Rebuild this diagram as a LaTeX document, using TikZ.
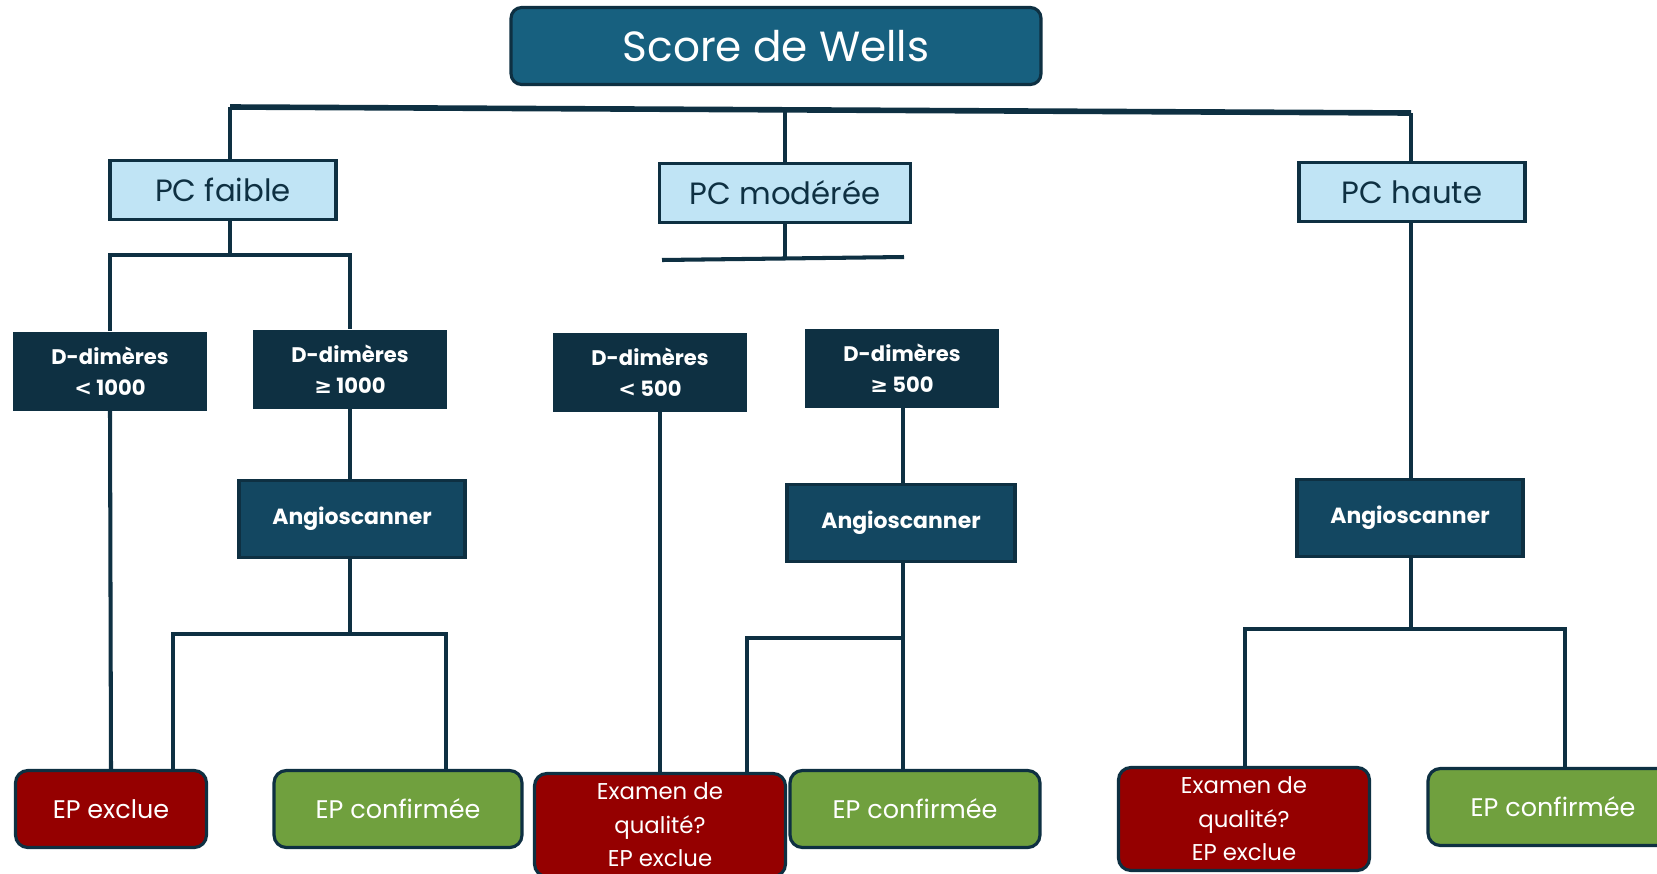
\documentclass[tikz,border=0pt]{standalone}
\usepackage{fontspec}
\setmainfont{Poppins}
\newfontfamily\symbfont{DejaVu Sans}
\newcommand*{\ddgeq}{{\symbfont ≥}}
\newcommand*{\ddless}{{\symbfont <}}
\definecolor{navy}{HTML}{0E3042}
\definecolor{wellsblue}{HTML}{17607F}
\definecolor{pcblue}{HTML}{C0E4F5}
\definecolor{angioblue}{HTML}{134761}
\definecolor{epred}{HTML}{950000}
\definecolor{epgreen}{HTML}{70A03E}
\tikzset{
  link/.style={draw=navy, line width=2.3pt},
  titlebox/.style={draw=navy, line width=1.8pt, fill=wellsblue, rounded corners=6pt,
    text=white, font=\fontsize{24}{28}\selectfont, minimum width=10.6cm, minimum height=1.54cm},
  pcbox/.style={draw=navy, line width=1.8pt, fill=pcblue, text=navy,
    font=\fontsize{17.5}{20}\selectfont, minimum width=4.52cm, minimum height=1.18cm},
  ddbox/.style={fill=navy, text=white, align=center, font=\bfseries\fontsize{12}{17.5}\selectfont,
    minimum width=3.88cm, minimum height=1.58cm},
  angiobox/.style={draw=navy, line width=1.8pt, fill=angioblue, text=white,
    font=\bfseries\fontsize{12.5}{15}\selectfont, minimum width=4.52cm, minimum height=1.54cm},
  endbox/.style={draw=navy, line width=1.8pt, rounded corners=7pt, text=white, align=center,
    font=\fontsize{14.5}{19}\selectfont, minimum width=4.96cm, minimum height=1.54cm},
  exclue/.style={endbox, fill=epred},
  confirm/.style={endbox, fill=epgreen},
  examen/.style={exclue, font=\fontsize{13}{19}\selectfont, minimum width=5.02cm, minimum height=2.06cm}
}
\begin{document}
\begin{tikzpicture}[x=0.02cm, y=-0.02cm]
  \useasboundingbox (0,0) rectangle (1657,873);
  \clip (0,0) rectangle (1657,873);
  % titre et probabilites cliniques
  \node[titlebox] (wells) at (776,46) {Score de Wells};
  \node[pcbox] (pcf) at (223,190) {PC faible};
  \node[pcbox, minimum width=5.02cm] (pcm) at (785,193) {PC modérée};
  \node[pcbox] (pch) at (1412,192) {PC haute};
  % D-dimeres
  \node[ddbox] (dd1) at (110,371) {D-dimères\\\ddless\ 1000};
  \node[ddbox] (dd2) at (350,369) {D-dimères\\\ddgeq\ 1000};
  \node[ddbox] (dd3) at (650,372) {D-dimères\\\ddless\ 500};
  \node[ddbox] (dd4) at (902,368) {D-dimères\\\ddgeq\ 500};
  % angioscanners
  \node[angiobox] (ang1) at (352,519) {Angioscanner};
  \node[angiobox, minimum width=4.56cm] (ang2) at (901,523) {Angioscanner};
  \node[angiobox] (ang3) at (1410,518) {Angioscanner};
  % conclusions
  \node[exclue, minimum width=3.82cm] (ex1) at (111,809) {EP exclue};
  \node[confirm] (conf1) at (398,809) {EP confirmée};
  \node[examen] (exam1) at (660,825) {Examen de\\qualité?\\EP exclue};
  \node[confirm, minimum width=5cm] (conf2) at (915,809) {EP confirmée};
  \node[examen] (exam2) at (1244,819) {Examen de\\qualité?\\EP exclue};
  \node[confirm, minimum width=5cm] (conf3) at (1553,807) {EP confirmée};
  % barre du haut
  \coordinate (barL) at (230,107);
  \coordinate (barM) at (785,110);
  \coordinate (barR) at (1411,113);
  \draw[link, line width=3.2pt] (barL) -- (barR);
  \draw[link] (barL) -- (barL |- pcf.north);
  \draw[link] (barM) -- (pcm.north);
  \draw[link] (barR) -- (barR |- pch.north);
  % PC faible
  \coordinate (splitF) at (230,255);
  \draw[link] (splitF |- pcf.south) -- (splitF);
  \draw[link] (dd1.north) |- (splitF) -| (dd2.north);
  \draw[link] (dd1.south) -- (ex1.north);
  \draw[link] (dd2.south) -- (dd2.south |- ang1.north);
  \coordinate (s1L) at (173,634);
  \coordinate (s1R) at (446,634);
  \draw[link] (ang1.south -| dd2.south) -- (dd2.south |- s1L);
  \draw[link] (s1L |- ex1.north) -- (s1L) -- (s1R) -- (s1R |- conf1.north);
  % PC moderee
  \coordinate (splitM) at (785,258);
  \draw[link] (pcm.south) -- (splitM);
  \draw[link] (662,260) -- (904,257);
  \draw[link] (exam1.north |- dd3.south) -- (exam1.north);
  \coordinate (s2) at (903,638);
  \coordinate (s2L) at (747,638);
  \draw[link] (s2 |- dd4.south) -- (s2 |- ang2.north);
  \draw[link] (s2 |- ang2.south) -- (s2 |- conf2.north);
  \draw[link] (s2) -- (s2L) -- (s2L |- exam1.north);
  % PC haute
  \coordinate (s3) at (1411,629);
  \coordinate (s3L) at (1245,629);
  \coordinate (s3R) at (1565,629);
  \draw[link] (s3 |- pch.south) -- (s3 |- ang3.north);
  \draw[link] (s3 |- ang3.south) -- (s3);
  \draw[link] (s3L |- exam2.north) -- (s3L) -- (s3R) -- (s3R |- conf3.north);
\end{tikzpicture}
\end{document}
